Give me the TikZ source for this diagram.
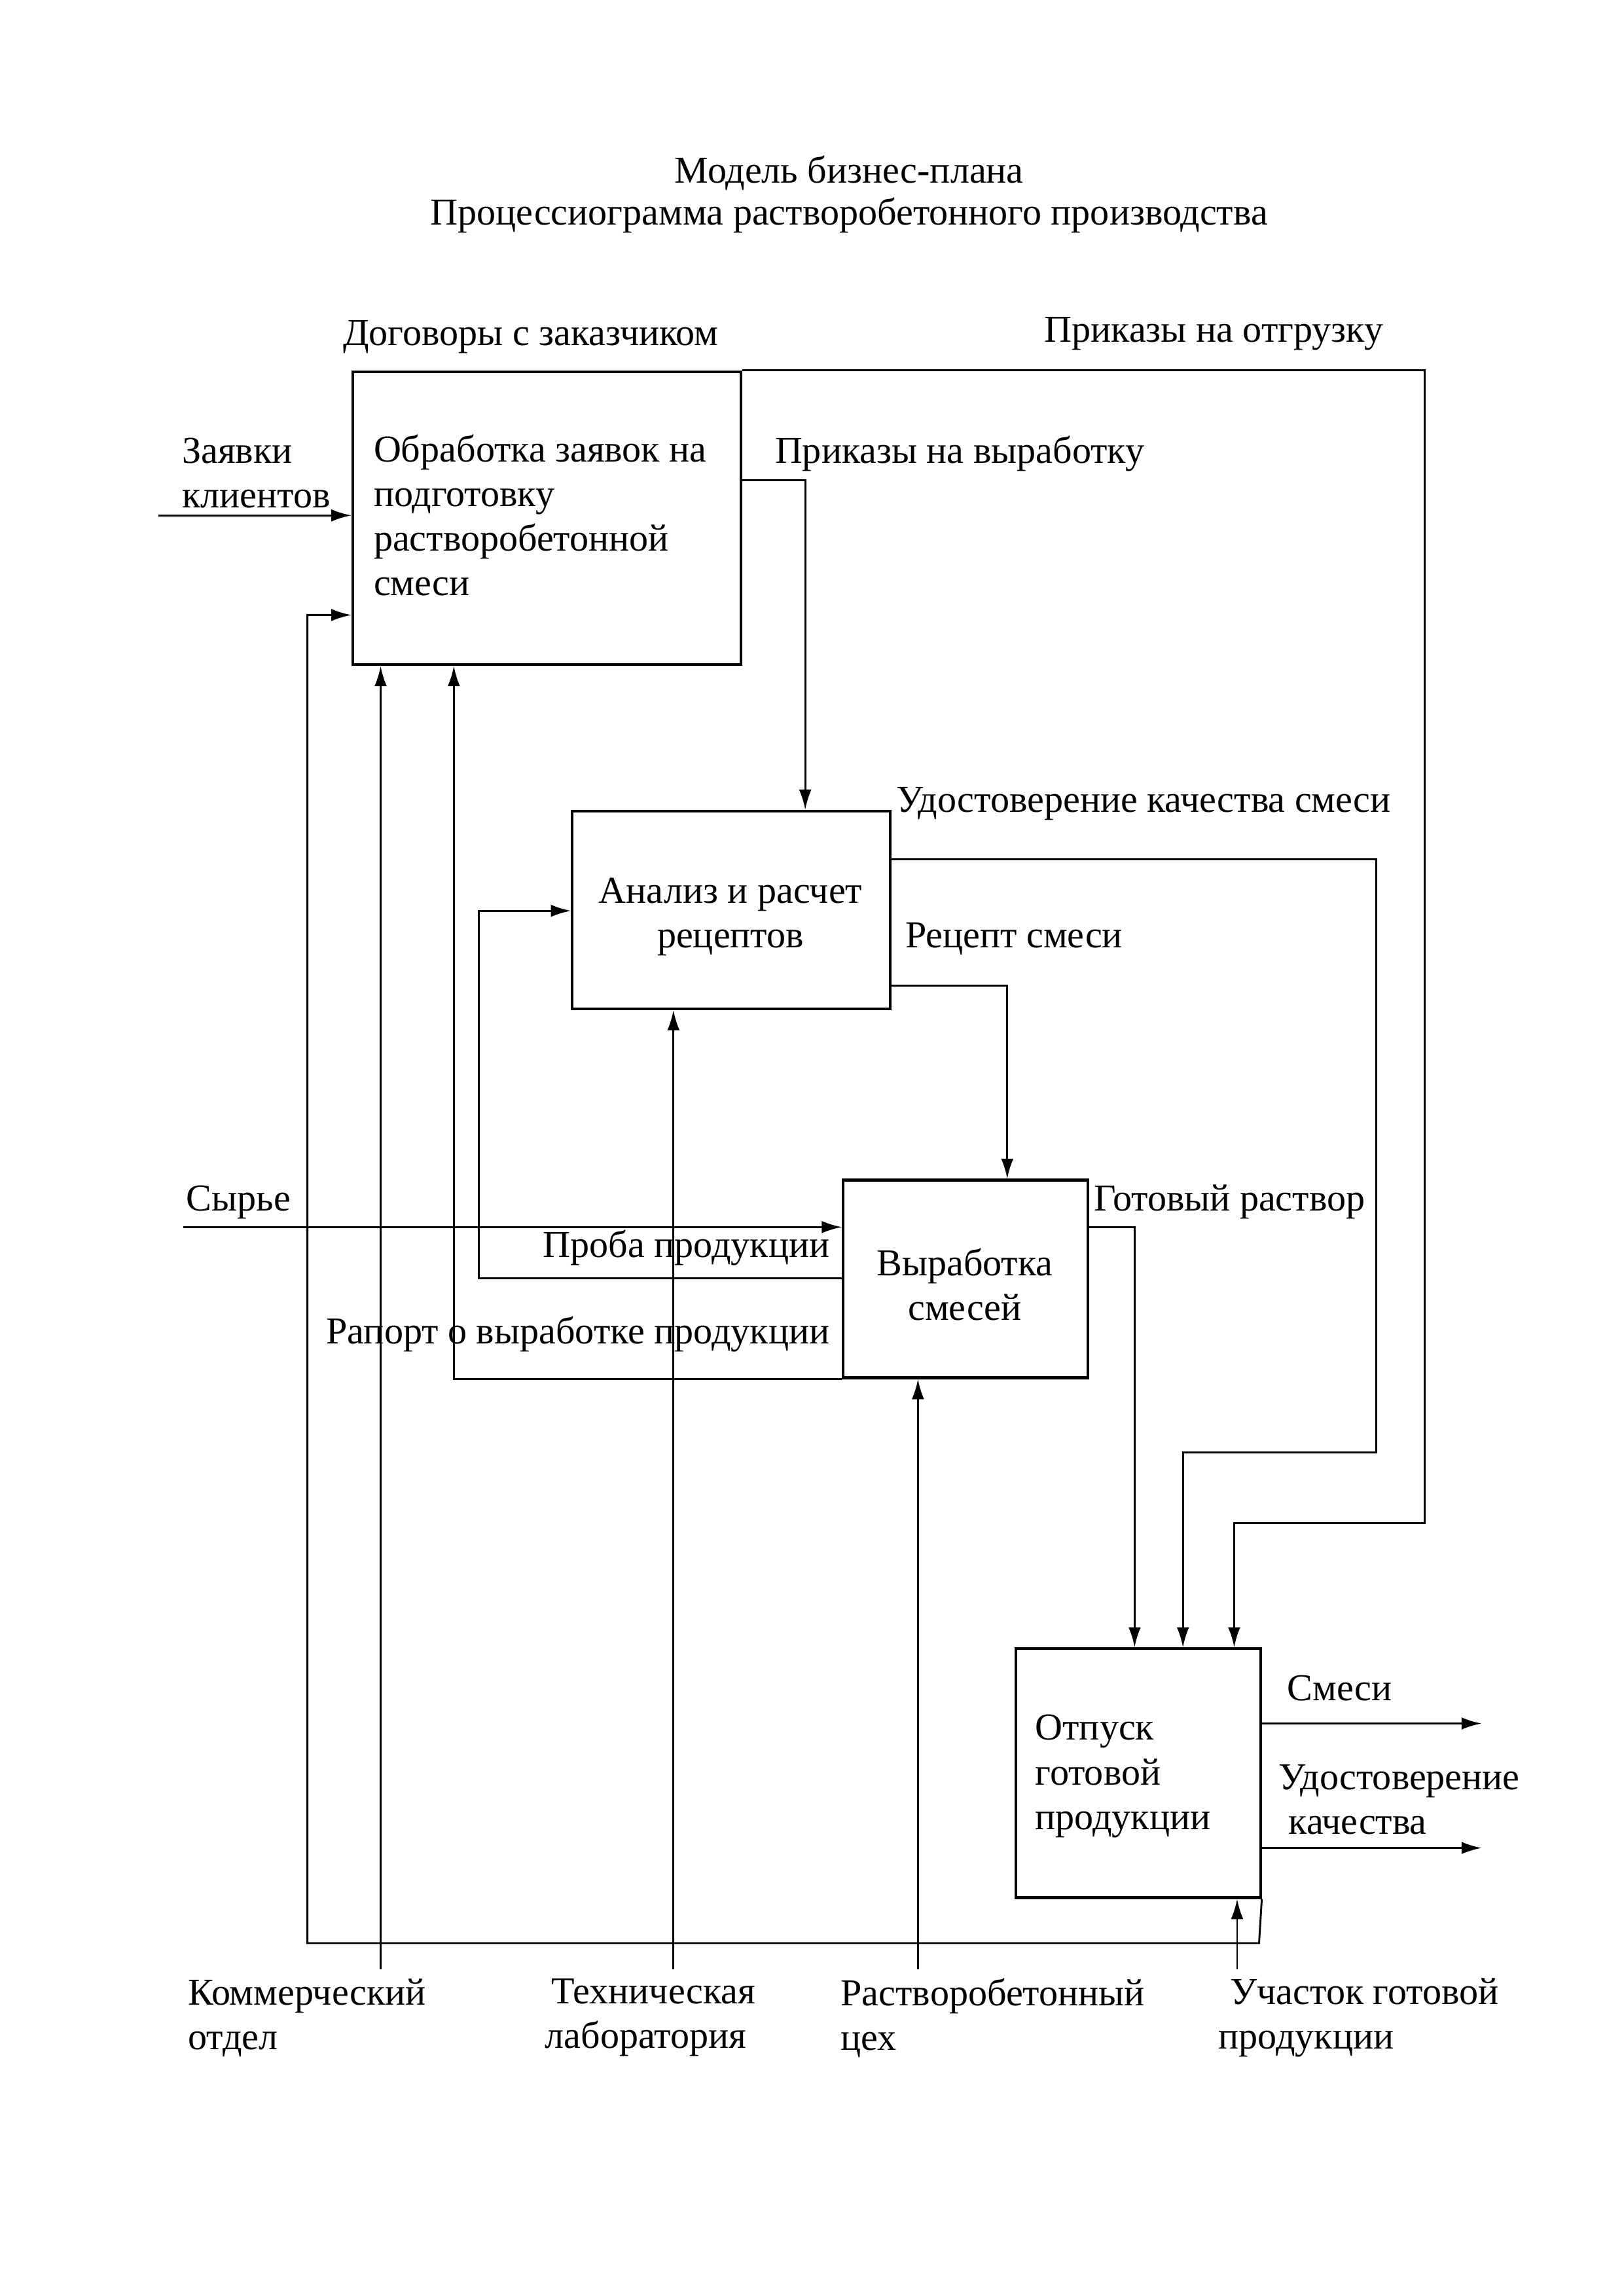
\documentclass[tikz,border=0pt]{standalone}
\usepackage{fontspec}
\setmainfont{Liberation Serif}
\usetikzlibrary{arrows.meta}
\begin{document}
\begin{tikzpicture}[x=0.18936mm,y=-0.18936mm,
  every node/.style={font=\fontsize{14}{16.4}\selectfont, inner sep=0pt},
  procbox/.style={draw, line width=1pt, anchor=north west},
  lbl/.style={anchor=west, align=left},
  conn/.style={line width=0.7pt},
  arr/.style={conn, -{Latex[length=2.6mm,width=1.6mm]}}]
\useasboundingbox (0,0) rectangle (1109,1568);
% title
\node (t1) at (580,118) {Модель бизнес-плана};
\node (t2) at (580,147) {Процессиограмма растворобетонного производства};
% boxes
\node[procbox, minimum width=265*0.18936mm, minimum height=200*0.18936mm] (b1) at (240,253) {};
\node[align=left] (b1t) at (369,352) {Обработка заявок на\\подготовку\\растворобетонной\\смеси};
\node[procbox, minimum width=217*0.18936mm, minimum height=135*0.18936mm] (b2) at (390,553) {};
\node[align=center] (b2t) at (499,626) {Анализ и расчет\\рецептов};
\node[procbox, minimum width=167*0.18936mm, minimum height=135*0.18936mm] (b3) at (575,805) {};
\node[align=center] (b3t) at (659,877) {Выработка\\смесей};
\node[procbox, minimum width=167*0.18936mm, minimum height=170*0.18936mm] (b4) at (693,1125) {};
\node[align=left] (b4t) at (767,1213) {Отпуск\\готовой\\продукции};
% labels
\node[lbl] (lDog) at (234,230) {Договоры с заказчиком};
\node[lbl] (lOtg) at (713,228) {Приказы на отгрузку};
\node[lbl] (lZay) at (124,323) {Заявки\\клиентов};
\node[lbl] (lVyr) at (529,310) {Приказы на выработку};
\node[lbl] (lUdS) at (612,549) {Удостоверение качества смеси};
\node[lbl] (lRec) at (618,641) {Рецепт смеси};
\node[lbl] (lSyr) at (127,821) {Сырье};
\node[anchor=east] (lPro) at (567,852) {Проба продукции};
\node[anchor=east] (lRap) at (567,911) {Рапорт о выработке продукции};
\node[lbl] (lGot) at (747,821) {Готовый раствор};
\node[lbl] (lSme) at (879,1153) {Смеси};
\node[lbl] (lUdK) at (873,1229) {Удостоверение\\\hspace*{1.3mm}качества};
\node[lbl] (lKom) at (128,1378) {Коммерческий\\отдел};
\node[lbl] (lTeh) at (372,1378) {\hspace*{0.8mm}Техническая\\лаборатория};
\node[lbl] (lRas) at (574,1378) {Растворобетонный\\цех};
\node[lbl] (lUch) at (832,1378) {\hspace*{1.5mm}Участок готовой\\продукции};
% free ends
\coordinate (inZ) at (108,352);
\coordinate (inS) at (125,838);
\coordinate (m1) at (260,1345);
\coordinate (m2) at (460,1345);
\coordinate (m3) at (627,1345);
\coordinate (m4) at (845,1345);
\coordinate (o1) at (1012,1177);
\coordinate (o2) at (1012,1262);
% inputs
\draw[arr] (inZ) -- (inZ -| b1.west);
\draw[arr] (inS) -- (inS -| b3.west);
% mechanisms
\draw[arr] (m1) -- (m1 |- b1.south);
\draw[arr] (m2) -- (m2 |- b2.south);
\draw[arr] (m3) -- (m3 |- b3.south);
\draw[arr] (m4) -- (m4 |- b4.south);
% outputs
\draw[arr] (o1 -| b4.east) -- (o1);
\draw[arr] (o2 -| b4.east) -- (o2);
% internal connectors
\draw[arr] (b1.east |- 0,328) -| (550,0 |- b2.north);
\draw[arr] (b1.north east) -- (973,253) -- (973,1040) -| (843,0 |- b4.north);
\draw[arr] (b2.east |- 0,587) -| (940,992) -| (808,0 |- b4.north);
\draw[arr] (b2.east |- 0,673) -| (688,0 |- b3.north);
\draw[arr] (b3.east |- 0,838) -| (775,0 |- b4.north);
\draw[arr] (b3.west |- 0,873) -| (327,622) -- (b2.west |- 0,622);
\draw[arr] (b3.south west) -| (310,0 |- b1.south);
\draw[arr] (b4.south east) -- (860,1327) -| (210,420) -- (b1.west |- 0,420);
\end{tikzpicture}
\end{document}
